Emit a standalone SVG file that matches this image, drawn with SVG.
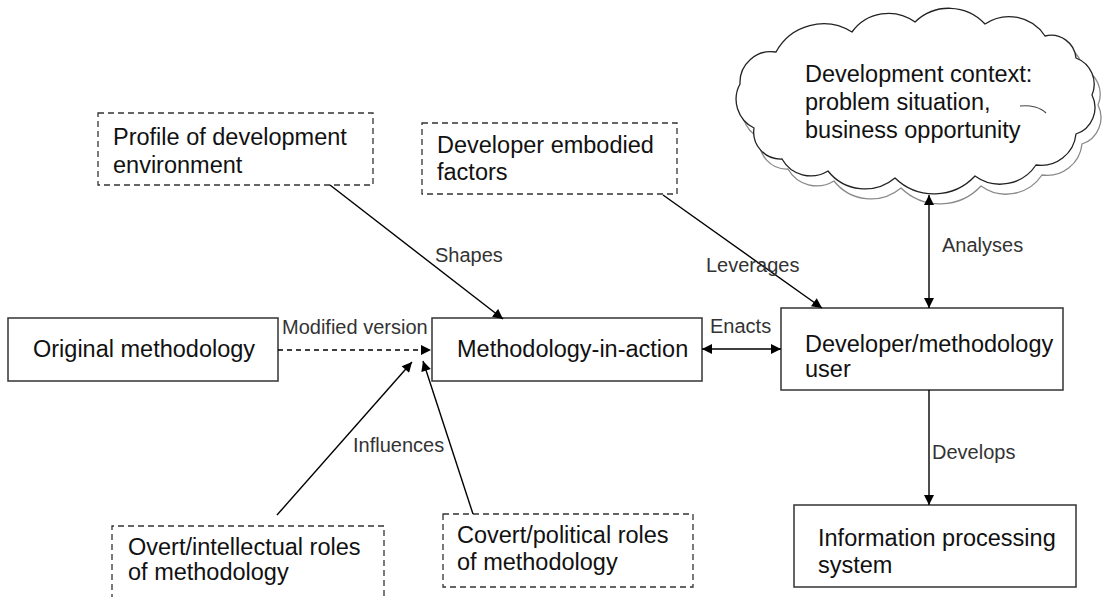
<svg xmlns="http://www.w3.org/2000/svg" width="1106" height="597" viewBox="0 0 1106 597">
  <defs>
    <marker id="arrow" viewBox="0 0 10 10" refX="10" refY="5" markerWidth="11" markerHeight="10" markerUnits="userSpaceOnUse" orient="auto-start-reverse">
      <path d="M0,0 L10,5 L0,10 z" fill="#000"/>
    </marker>
    <path id="cloudShape" d="M754,128 A32,32 0 0 1 740,84 A31,31 0 0 1 776,52 A54,54 0 0 1 852,32 A45,45 0 0 1 915,22 A49,49 0 0 1 985,24 A43,43 0 0 1 1045,36 A25,25 0 0 1 1076,58 A28,28 0 0 1 1092,95 A28,28 0 0 1 1076,134 A35,35 0 0 1 1036,165 A43,43 0 0 1 975,176 A56,56 0 0 1 895,178 A47,47 0 0 1 828,171 A33,33 0 0 1 782,159 A27,27 0 0 1 754,128 z"/>
  </defs>
  <style>
    .box { fill: #fff; stroke: #333; stroke-width: 1.5; }
    .dbox { fill: #fff; stroke: #333; stroke-width: 1.3; stroke-dasharray: 6 4; }
    .node { font-family: "Liberation Sans", Arial, sans-serif; font-size: 23.5px; fill: #111; }
    .lbl { font-family: "Liberation Sans", Arial, sans-serif; font-size: 20px; fill: #333; }
    .edge { stroke: #000; stroke-width: 1.4; fill: none; }
    .dashed { stroke-dasharray: 5 4; }
  </style>
  <rect width="1106" height="597" fill="#fff"/>

  <!-- context cloud with offset grey outline -->
  <g id="context">
    <use href="#cloudShape" transform="translate(6,10)" fill="#fff" stroke="#8a8a8a" stroke-width="1.3"/>
    <use href="#cloudShape" fill="#fff" stroke="#222" stroke-width="1.3"/>
    <path d="M1020,106 A24,14 0 0 1 1046,113" fill="none" stroke="#444" stroke-width="1.1"/>
    <text class="node" font-size="24" x="805" y="82">Development context:</text>
    <text class="node" font-size="24" x="805" y="110">problem situation,</text>
    <text class="node" font-size="24" x="805" y="138">business opportunity</text>
  </g>

  <g id="profile">
    <rect class="dbox" x="98" y="113" width="275" height="72"/>
    <text class="node" x="113" y="145">Profile of development</text>
    <text class="node" x="113" y="173">environment</text>
  </g>

  <g id="embodied">
    <rect class="dbox" x="422" y="123" width="255" height="71"/>
    <text class="node" x="437" y="153">Developer embodied</text>
    <text class="node" x="437" y="180">factors</text>
  </g>

  <g id="original">
    <rect class="box" x="8" y="318" width="270" height="63"/>
    <text class="node" x="33" y="357">Original methodology</text>
  </g>

  <g id="mia">
    <rect class="box" x="432" y="318" width="270" height="63"/>
    <text class="node" x="457" y="357">Methodology-in-action</text>
  </g>

  <g id="developer">
    <rect class="box" x="781" y="308" width="282" height="82"/>
    <text class="node" x="805" y="352">Developer/methodology</text>
    <text class="node" x="805" y="377">user</text>
  </g>

  <g id="ips">
    <rect class="box" x="794" y="505" width="282" height="82"/>
    <text class="node" x="818" y="546">Information processing</text>
    <text class="node" x="818" y="573">system</text>
  </g>

  <g id="overt">
    <path class="dbox" d="M112,600 V526 H384 V600"/>
    <text class="node" x="128" y="555">Overt/intellectual roles</text>
    <text class="node" x="128" y="580">of methodology</text>
  </g>

  <g id="covert">
    <rect class="dbox" x="443" y="514" width="250" height="73"/>
    <text class="node" x="457" y="543">Covert/political roles</text>
    <text class="node" x="457" y="570">of methodology</text>
  </g>

  <g id="connectors">
    <line class="edge" x1="330" y1="185" x2="503" y2="319" marker-end="url(#arrow)"/>
    <text class="lbl" x="435" y="262">Shapes</text>

    <line class="edge" x1="663" y1="195" x2="822" y2="308" marker-end="url(#arrow)"/>
    <text class="lbl" x="706" y="272">Leverages</text>

    <line class="edge" x1="929" y1="195" x2="929" y2="308" marker-start="url(#arrow)" marker-end="url(#arrow)"/>
    <text class="lbl" x="942" y="252">Analyses</text>

    <line class="edge dashed" x1="278" y1="350" x2="431" y2="350" marker-end="url(#arrow)"/>
    <text class="lbl" x="282" y="334">Modified version</text>

    <line class="edge" x1="702" y1="349" x2="781" y2="349" marker-start="url(#arrow)" marker-end="url(#arrow)"/>
    <text class="lbl" x="710" y="333">Enacts</text>

    <line class="edge" x1="929" y1="390" x2="929" y2="505" marker-end="url(#arrow)"/>
    <text class="lbl" x="932" y="459">Develops</text>

    <line class="edge" x1="277" y1="515" x2="412" y2="362" marker-end="url(#arrow)"/>
    <line class="edge" x1="473" y1="514" x2="423" y2="361" marker-end="url(#arrow)"/>
    <text class="lbl" x="353" y="452">Influences</text>
  </g>
</svg>
